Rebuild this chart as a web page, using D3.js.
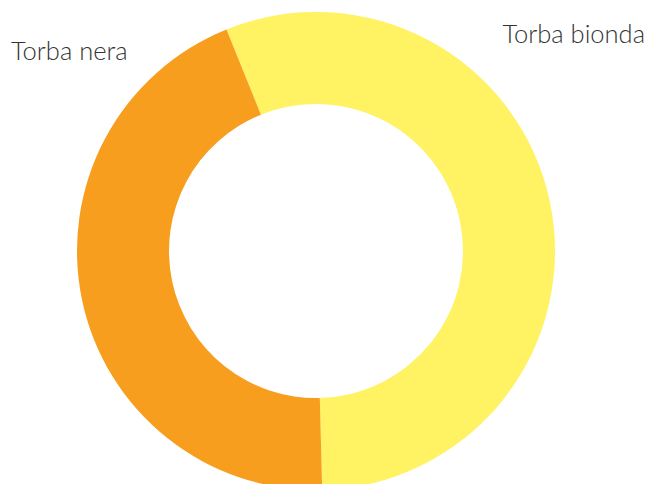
<!DOCTYPE html>
<html>
<head>
<meta charset="utf-8">
<style>
  body { margin: 0; background: #fff; }
  .label { font-family: Lato, "Open Sans", sans-serif; font-weight: 300; fill: #333; }
</style>
</head>
<body>
<div id="chart-holder"></div>
<script src="https://d3js.org/d3.v7.min.js"></script>
<script>
// data
var categories = ['Torba bionda', 'Torba nera'];
var values = [55.7, 44.3];
var colors = ['#FFF263', '#F89E1F'];

var width = 648;
var height = 484;
var cx = 316, cy = 251;
var outerR = 239, innerR = 147;

var svg = d3.select('#chart-holder')
    .append('svg')
    .attr('width', width)
    .attr('height', height);

var g = svg.append('g')
    .attr('transform', 'translate(' + cx + ',' + cy + ')');

var color = d3.scaleOrdinal().domain(categories).range(colors);

// start a bit left of top, clockwise
var start = -22 * Math.PI / 180;
var pie = d3.pie()
    .sort(null)
    .startAngle(start)
    .endAngle(start + 2 * Math.PI)
    .value(function(d, i) { return values[i]; });

var arc = d3.arc().innerRadius(innerR).outerRadius(outerR);

g.selectAll('path')
    .data(pie(categories))
    .enter()
    .append('path')
    .attr('d', arc)
    .attr('fill', function(d) { return color(d.data); });

// labels
svg.append('text')
    .attr('class', 'label')
    .attr('x', 645)
    .attr('y', 43)
    .attr('text-anchor', 'end')
    .style('font-size', '25.5px')
    .text(categories[0]);

svg.append('text')
    .attr('class', 'label')
    .attr('x', 11)
    .attr('y', 60)
    .style('font-size', '25.5px')
    .text(categories[1]);
</script>
</body>
</html>
